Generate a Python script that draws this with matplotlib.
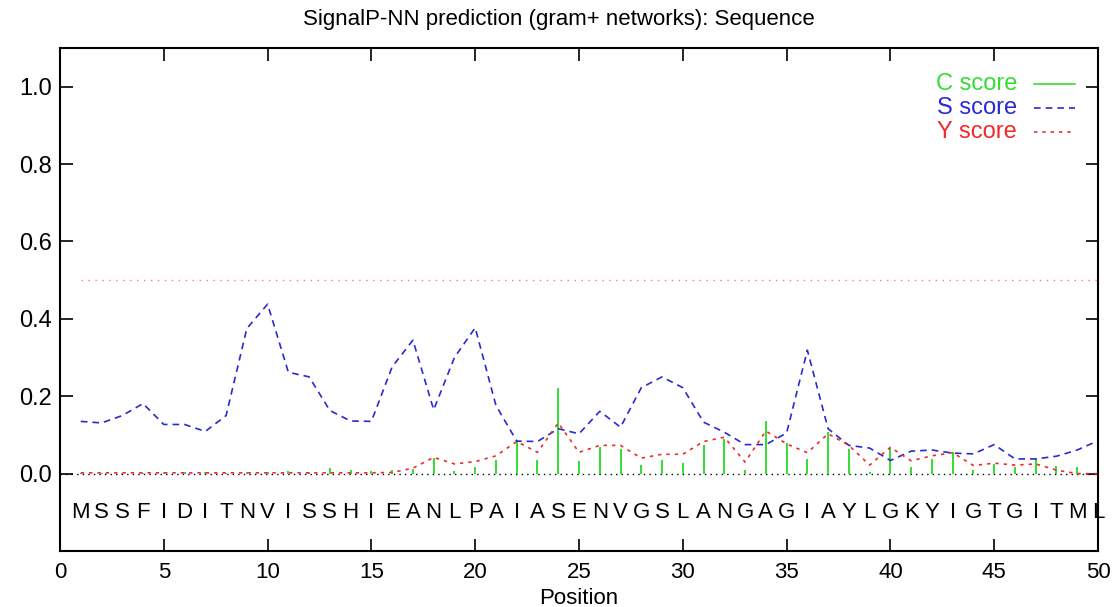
import numpy as np
import matplotlib
matplotlib.use("Agg")
import matplotlib.pyplot as plt

plt.rcParams['font.family'] = ['Liberation Sans', 'DejaVu Sans']

sequence = "MSSFIDITNVISSHIEANLPAIASENVGSLANGAGIAYLGKYIGTGITML"
positions = np.arange(1, 51)

c_score = [0.002, 0.002, 0.002, 0.002, 0.003, 0.003, 0.003, 0.002, 0.003, 0.003,
           0.008, 0.003, 0.015, 0.010, 0.008, 0.010, 0.013, 0.041, 0.008, 0.017,
           0.036, 0.088, 0.036, 0.220, 0.032, 0.070, 0.064, 0.023, 0.034, 0.027,
           0.073, 0.090, 0.009, 0.136, 0.079, 0.039, 0.108, 0.064, 0.003, 0.066,
           0.017, 0.039, 0.057, 0.009, 0.024, 0.017, 0.041, 0.020, 0.016, 0.041]

s_score = [0.135, 0.131, 0.150, 0.181, 0.127, 0.127, 0.109, 0.150, 0.375, 0.438,
           0.262, 0.250, 0.163, 0.136, 0.135, 0.276, 0.345, 0.165, 0.300, 0.377,
           0.176, 0.084, 0.083, 0.116, 0.103, 0.161, 0.120, 0.222, 0.250, 0.222,
           0.133, 0.107, 0.075, 0.075, 0.105, 0.319, 0.116, 0.073, 0.066, 0.034,
           0.058, 0.061, 0.053, 0.051, 0.075, 0.038, 0.038, 0.045, 0.061, 0.085]

y_score = [0.002, 0.002, 0.002, 0.002, 0.002, 0.002, 0.002, 0.002, 0.002, 0.002,
           0.002, 0.002, 0.002, 0.002, 0.002, 0.003, 0.014, 0.042, 0.025, 0.031,
           0.046, 0.083, 0.055, 0.131, 0.055, 0.073, 0.073, 0.040, 0.050, 0.050,
           0.083, 0.094, 0.030, 0.110, 0.077, 0.054, 0.103, 0.073, 0.022, 0.068,
           0.033, 0.046, 0.054, 0.021, 0.027, 0.022, 0.025, 0.009, 0.000, 0.000]

cutoff = 0.5

fig = plt.figure(figsize=(11.17, 6.07), dpi=100)
ax = fig.add_axes([60 / 1117, 1 - 551 / 607, 1038 / 1117, 503 / 607])

# cutoff line and zero axis
ax.plot([1, 50], [cutoff, cutoff], color='#ff66cc', lw=1.0, ls=(0, (1, 4)))
ax.plot([0, 50], [0, 0], color='black', lw=1.0, ls=(0, (1, 3)))

ax.vlines(positions, 0, c_score, color='#33dd33', lw=1.4)
ax.plot(positions, s_score, color='#2a2ad0', lw=1.2, ls=(0, (4, 3)))
ax.plot(positions, y_score, color='#ee2a2a', lw=1.2, ls=(0, (2, 3)))

for i, aa in enumerate(sequence):
    ax.text(positions[i], -0.1, aa, ha='center', va='center', fontsize=16)

ax.set_xlim(0, 50)
ax.set_ylim(-0.2, 1.1)
ax.set_xticks(range(0, 51, 5))
ax.set_yticks([0.0, 0.2, 0.4, 0.6, 0.8, 1.0])
ax.set_yticklabels(['0.0', '0.2', '0.4', '0.6', '0.8', '1.0'])
ax.tick_params(direction='in', length=9, width=1.2, labelsize=17,
               top=True, right=True)
ax.tick_params(axis='x', pad=8, labelsize=16)
ax.tick_params(axis='y', pad=6)
for sp in ax.spines.values():
    sp.set_linewidth(1.5)

fig.text(579 / 1117, 1 - 598 / 607, 'Position', fontsize=16, ha='center', va='center')
fig.text(0.5, 1 - 20 / 607, 'SignalP-NN prediction (gram+ networks): Sequence',
         fontsize=16, ha='center', va='center')

# legend, gnuplot style
legend_items = [('C score', '#33dd33', '-'), ('S score', '#2a2ad0', (0, (4, 3))),
                ('Y score', '#ee2a2a', (0, (2, 3)))]
for k, (label, col, ls) in enumerate(legend_items):
    yy = 1.008 - k * 0.062
    ax.text(46.1, yy, label, color=col, fontsize=17, ha='right', va='center')
    ax.plot([46.9, 48.9], [yy, yy], color=col, lw=1.2, ls=ls)

fig.savefig('out.png', dpi=100)
